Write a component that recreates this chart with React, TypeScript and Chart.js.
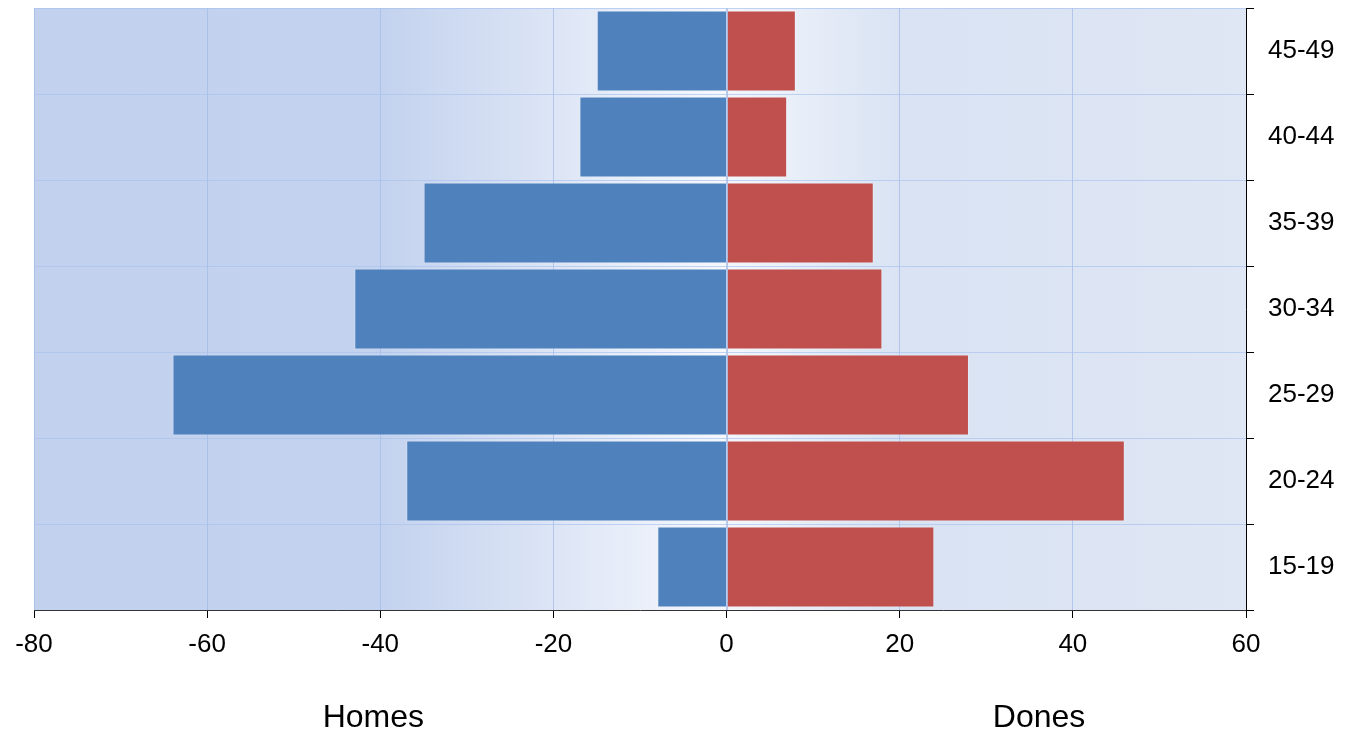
import React, { useEffect, useRef } from "react";
import { Chart, registerables } from "chart.js";

Chart.register(...registerables);

const ageGroups = ["45-49", "40-44", "35-39", "30-34", "25-29", "20-24", "15-19"];
const homes = [-15, -17, -35, -43, -64, -37, -8];
const dones = [8, 7, 17, 18, 28, 46, 24];
const seriesNames = ["Homes", "Dones"];
const xMin = -80;
const xMax = 60;
const xStep = 20;

const FONT = "'Liberation Sans', Arial, sans-serif";

const bgPlugin = {
  id: "bgGradient",
  beforeDraw(chart: any) {
    const { ctx, chartArea } = chart;
    const xs = chart.scales.x;
    const x0 = chartArea.left;
    const x1 = chartArea.right;
    const w = x1 - x0;
    const f = (v: number) => (xs.getPixelForValue(v) - x0) / w;
    const g = ctx.createLinearGradient(x0, 0, x1, 0);
    g.addColorStop(0, "#c2d1ed");
    g.addColorStop(f(-40), "#c3d2ee");
    g.addColorStop(f(-0.3), "#f6f8fd");
    g.addColorStop(f(0), "#f3f6fc");
    g.addColorStop(f(20), "#d9e3f3");
    g.addColorStop(1, "#dfe6f4");
    ctx.save();
    ctx.fillStyle = g;
    ctx.fillRect(x0, chartArea.top, w, chartArea.bottom - chartArea.top);
    ctx.restore();
  },
  afterDatasetsDraw(chart: any) {
    const { ctx, chartArea } = chart;
    const px = Math.round(chart.scales.x.getPixelForValue(0)) + 0.5;
    ctx.save();
    ctx.strokeStyle = "rgba(175,192,225,0.9)";
    ctx.lineWidth = 1;
    ctx.beginPath();
    ctx.moveTo(px, chartArea.top);
    ctx.lineTo(px, chartArea.bottom);
    ctx.stroke();
    ctx.restore();
  },
  afterDraw(chart: any) {
    const { ctx } = chart;
    const xs = chart.scales.x;
    const pos = [-40.8, 36.1];
    ctx.save();
    ctx.fillStyle = "#000";
    ctx.font = `32px ${FONT}`;
    ctx.textAlign = "center";
    ctx.textBaseline = "middle";
    seriesNames.forEach((n, i) => {
      ctx.fillText(n, xs.getPixelForValue(pos[i]), 718);
    });
    ctx.restore();
  },
};

export default function App() {
  const ref = useRef<HTMLCanvasElement | null>(null);
  useEffect(() => {
    if (!ref.current) return;
    const chart = new Chart(ref.current, {
      type: "bar",
      data: {
        labels: ageGroups,
        datasets: [
          {
            label: seriesNames[0],
            data: homes,
            backgroundColor: "#4f81bd",
            borderColor: "rgba(255,255,255,0.25)",
            borderWidth: 1,
            barPercentage: 0.94,
            categoryPercentage: 1,
          },
          {
            label: seriesNames[1],
            data: dones,
            backgroundColor: "#c0504d",
            borderColor: "rgba(255,255,255,0.25)",
            borderWidth: 1,
            barPercentage: 0.94,
            categoryPercentage: 1,
          },
        ],
      },
      options: {
        indexAxis: "y",
        animation: false,
        responsive: false,
        maintainAspectRatio: false,
        layout: { padding: { left: 34, top: 8, right: 0, bottom: 0 } },
        plugins: {
          legend: { display: false },
          tooltip: { enabled: false },
        },
        scales: {
          x: {
            type: "linear",
            stacked: true,
            min: xMin,
            max: xMax,
            ticks: {
              stepSize: xStep,
              color: "#000",
              font: { family: FONT, size: 26 },
              padding: 11,
            },
            grid: {
              color: "rgba(160,185,232,0.7)",
              tickColor: "#000",
              tickLength: 8,
              drawOnChartArea: true,
            },
            border: { display: true, color: "#333", width: 1 },
            afterFit(scale: any) {
              scale.height = 127;
              scale.paddingLeft = 0;
              scale.paddingRight = 0;
            },
          },
          y: {
            type: "category",
            position: "right",
            stacked: true,
            ticks: {
              color: "#000",
              font: { family: FONT, size: 26 },
              padding: 14,
            },
            grid: {
              offset: true,
              color: "rgba(170,195,238,0.7)",
              tickColor: "#000",
              tickLength: 8,
            },
            border: { display: true, color: "#000", width: 1 },
            afterFit(scale: any) {
              scale.width = 100;
              scale.paddingTop = 0;
              scale.paddingBottom = 0;
            },
          },
        },
      },
      plugins: [bgPlugin],
    } as any);
    return () => chart.destroy();
  }, []);
  return (
    <div style={{ position: "fixed", left: 0, top: 0, width: 1346, height: 737, background: "#fff" }}>
      <canvas ref={ref} width={1346} height={737} style={{ display: "block" }} />
    </div>
  );
}
